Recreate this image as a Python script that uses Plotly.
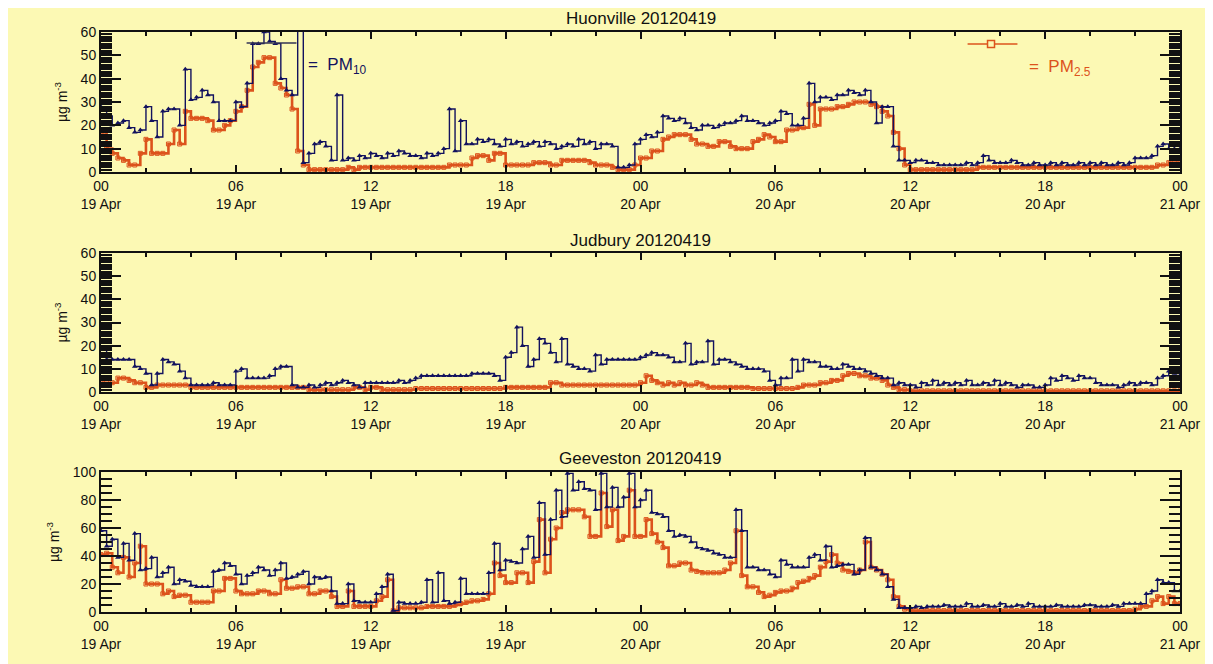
import pandas as pd
import plotly.graph_objects as go

# ---------------- data (15-minute steps, 19 Apr 00:00 -> 21 Apr 00:00) ----------------
times = pd.date_range("2012-04-19 00:00", periods=193, freq="15min")

huon_pm10 = [28, 24, 20, 21,  22, 19, 17, 18,  28, 22, 15, 26,  27, 27, 20, 44,
             31, 32, 35, 33,  30, 22, 22, 22,  30, 28, 38, 55,  55, 60, 56, 55,
             40, 35, 33, 95,  4, 8, 12, 13,  11, 5, 33, 5,  6, 5, 7, 6,
             8, 7, 6, 8,  7, 9, 8, 7,  7, 6, 8, 7,  8, 10, 27, 9,
             22, 12, 12, 14,  13, 14, 12, 11,  14, 12, 13, 11,  12, 13, 11, 13,
             12, 10, 11, 12,  11, 14, 12, 13,  10, 12, 12, 11,  2, 2, 3, 12,
             14, 16, 15, 17,  24, 23, 22, 23,  21, 19, 18, 20,  20, 19, 20, 21,
             21, 22, 24, 22,  22, 21, 20, 21,  22, 26, 25, 20,  20, 23, 38, 30,
             32, 32, 31, 33,  33, 35, 34, 33,  35, 30, 21, 28,  28, 11, 5, 5,
             4, 5, 5, 4,  4, 3, 3, 3,  3, 3, 4, 3,  4, 7, 5, 4,
             4, 4, 5, 4,  3, 3, 4, 3,  3, 4, 3, 4,  3, 3, 4, 3,
             4, 3, 4, 3,  3, 4, 3, 4,  6, 6, 6, 7,  11, 12, 10, 10,  10]
huon_pm25 = [17, 10, 8, 6,  5, 3, 3, 8,  14, 8, 8, 8,  12, 18, 12, 26,
             23, 23, 23, 22,  18, 18, 20, 22,  26, 28, 35, 45,  47, 49, 49, 38,
             36, 33, 27, 9,  3, 1, 1, 1,  1, 1, 1, 1,  2, 1, 2, 2,
             2, 2, 2, 2,  2, 2, 2, 2,  2, 2, 2, 2,  2, 2, 3, 3,
             3, 3, 6, 7,  7, 5, 8, 8,  3, 3, 3, 3,  3, 4, 4, 4,
             3, 3, 5, 5,  5, 5, 5, 4,  3, 3, 3, 2,  1, 1, 1, 3,
             6, 6, 9, 9,  14, 15, 16, 16,  16, 14, 12, 12,  11, 11, 13, 13,
             11, 10, 10, 10,  13, 14, 16, 15,  13, 13, 18, 18,  19, 19, 29, 20,
             27, 27, 27, 28,  28, 29, 30, 30,  30, 29, 28, 26,  24, 17, 10, 3,
             1, 1, 1, 1,  1, 1, 1, 1,  1, 1, 1, 1,  2, 2, 2, 2,
             2, 2, 2, 2,  2, 2, 2, 2,  2, 2, 2, 2,  2, 2, 2, 2,
             2, 2, 2, 2,  2, 2, 2, 2,  2, 2, 2, 2,  3, 3, 4, 4,  4]

judb_pm10 = [19, 14, 14, 14,  14, 14, 11, 10,  8, 3, 8, 14,  13, 12, 9, 6,
             3, 3, 3, 3,  4, 3, 3, 3,  9, 10, 6, 6,  6, 6, 7, 10,
             11, 11, 3, 2,  2, 3, 2, 3,  4, 3, 4, 5,  4, 3, 2, 4,
             4, 4, 4, 4,  4, 5, 4, 5,  6, 7, 7, 7,  7, 7, 7, 7,
             7, 7, 8, 8,  8, 8, 7, 5,  15, 17, 28, 20,  11, 14, 23, 21,
             17, 13, 23, 12,  11, 10, 10, 9,  16, 12, 14, 14,  14, 14, 14, 14,
             15, 16, 17, 16,  16, 15, 13, 13,  21, 12, 13, 13,  22, 12, 14, 14,
             13, 12, 11, 10,  10, 10, 9, 5,  3, 6, 6, 14,  9, 14, 13, 13,
             11, 11, 10, 10,  12, 11, 10, 10,  9, 8, 7, 6,  6, 3, 4, 3,
             3, 2, 4, 3,  5, 3, 4, 3,  4, 3, 5, 3,  3, 4, 3, 5,
             3, 4, 3, 2,  3, 3, 2, 2,  3, 6, 5, 7,  6, 5, 7, 6,
             6, 4, 3, 3,  3, 2, 3, 4,  3, 4, 4, 3,  6, 7, 9, 8,  7]
judb_pm25 = [4, 4, 4, 6,  6, 5, 4, 4,  2, 2, 3, 3,  3, 3, 3, 3,
             2, 2, 2, 2,  2, 2, 2, 2,  2, 2, 2, 2,  2, 2, 2, 2,
             2, 2, 2, 2,  2, 1, 1, 1,  1, 1, 1, 1,  1, 2, 2, 1,
             2, 2, 1, 1,  1, 1, 1, 1,  1.5, 1.5, 1.5, 1.5,  1.5, 1.5, 1.5, 1.5,
             1.5, 1.5, 1.5, 1.5,  1.5, 1.5, 1.5, 1.5,  2, 2, 2, 2,  2, 2, 2, 2,
             4, 4, 3, 3,  3, 3, 3, 3,  3, 3, 3, 3,  3, 3, 3, 3,
             4, 7, 5, 4,  3, 4, 3, 4,  3, 3, 4, 3,  2, 2, 2, 2,
             2, 2, 2, 2,  1.5, 1.5, 1.5, 1.5,  1.5, 1.5, 1.5, 1.5,  2, 3, 3, 3,
             4, 4, 5, 5,  7, 8, 8, 7,  7, 6, 6, 5,  3, 2, 1, 1,
             0.5, 0.5, 0.5, 0.5,  0.5, 0.5, 0.5, 0.5,  0.5, 0.5, 0.5, 0.5,  0.5, 0.5, 0.5, 0.5,
             0.5, 0.5, 0.5, 0.5,  0.5, 0.5, 0.5, 0.5,  0.5, 0.5, 0.5, 0.5,  0.5, 0.5, 0.5, 0.5,
             0.5, 0.5, 0.5, 0.5,  0.5, 0.5, 0.5, 0.5,  0.5, 0.5, 0.5, 0.5,  0.5, 0.5, 0.5, 0.5,  0.5]

geev_pm10 = [58, 47, 52, 39,  49, 37, 56, 30,  31, 39, 25, 28,  32, 20, 23, 22,
             19, 18, 18, 18,  29, 30, 35, 33,  27, 20, 26, 28,  32, 30, 26, 30,
             35, 24, 25, 27,  29, 20, 25, 24,  25, 15, 6, 6,  20, 8, 7, 7,
             7, 13, 18, 27,  1, 7, 6, 6,  6, 7, 23, 7,  28, 8, 6, 7,
             24, 13, 13, 13,  13, 28, 49, 30,  37, 36, 35, 45,  54, 39, 78, 41,
             66, 87, 68, 99,  87, 93, 88, 87,  73, 99, 75, 89,  75, 82, 99, 75,
             80, 87, 71, 70,  68, 58, 54, 55,  54, 50, 46, 45,  44, 42, 41, 39,
             39, 73, 58, 32,  32, 30, 30, 27,  25, 37, 34, 32,  32, 32, 39, 41,
             37, 47, 32, 33,  34, 34, 27, 30,  53, 32, 30, 27,  18, 9, 3, 3,
             3, 4, 3, 4,  4, 4, 5, 4,  4, 4, 6, 4,  4, 5, 4, 4,
             6, 4, 4, 5,  4, 6, 4, 4,  4, 4, 5, 4,  4, 4, 4, 5,
             5, 4, 4, 4,  5, 4, 6, 6,  6, 6, 13, 15,  23, 21, 21, 15,  15]
geev_pm25 = [41, 42, 32, 28,  39, 25, 35, 47,  20, 20, 20, 13,  15, 11, 12, 12,
             7, 7, 7, 7,  15, 15, 24, 24,  15, 13, 13, 13,  15, 15, 13, 13,
             23, 17, 17, 18,  18, 13, 13, 15,  15, 11, 4, 4,  15, 4, 4, 4,
             4, 8, 11, 23,  1, 3, 3, 3,  3, 3, 4, 4,  4, 4, 4, 5,
             6, 7, 8, 8,  9, 13, 35, 26,  21, 21, 28, 28,  21, 36, 66, 28,
             52, 60, 71, 73,  73, 73, 68, 54,  54, 85, 61, 73,  51, 54, 87, 54,
             54, 66, 56, 50,  46, 33, 33, 35,  35, 30, 29, 28,  28, 28, 28, 30,
             35, 58, 26, 18,  18, 14, 11, 12,  14, 15, 15, 17,  21, 22, 24, 26,
             32, 36, 41, 35,  30, 29, 28, 30,  50, 32, 30, 27,  23, 11, 4, 2,
             1, 1, 1, 1,  1, 1, 1, 1,  1, 1, 1, 1,  1, 1, 1, 1,
             1, 1, 1, 1,  1, 1, 1, 1,  1, 1, 1, 1,  1, 1, 1, 1,
             1, 1, 1, 1,  1, 1, 1, 1,  2, 4, 4, 8,  11, 6, 11, 6,  6]

panel_titles = ["Huonville 20120419", "Judbury 20120419", "Geeveston 20120419"]
y_ranges = [[0, 60], [0, 60], [0, 100]]
y_dticks = [10, 10, 20]
y_minor = [1, 1, 5]

# ---------------- style ----------------
BG = "#FCF9B4"
BLUE = "#12125E"
ORANGE = "#DC531C"
INK = "#111111"
FONT = "Liberation Sans"

# page body has an 8px margin: figure occupies screen pixels 8..1213 x 8..664
OFF = 8
W, H = 1213 - OFF, 664 - OFF
ML, MR, MT, MB = 101 - OFF, 30, 32 - OFF, 52
PH = H - MT - MB  # 580
PW = W - ML - MR  # 1082


def py(p):  # screen pixel y -> paper fraction
    return (664 - MB - p) / PH


def px(p):  # screen pixel x -> paper fraction
    return (p - 101) / PW


domains = [[py(172), py(32)], [py(392), py(253)], [py(612), py(472)]]

fig = go.Figure()
series = [(huon_pm10, huon_pm25), (judb_pm10, judb_pm25), (geev_pm10, geev_pm25)]
for i, (p10, p25) in enumerate(series):
    xa = "x" if i == 0 else f"x{i+1}"
    ya = "y" if i == 0 else f"y{i+1}"
    fig.add_trace(go.Scatter(x=times, y=p25, xaxis=xa, yaxis=ya, mode="lines+markers",
                             line=dict(color=ORANGE, width=2.6, shape="hv"),
                             marker=dict(symbol="square-open", size=4, color=ORANGE,
                                         line=dict(width=1, color=ORANGE)),
                             showlegend=False))
    fig.add_trace(go.Scatter(x=times, y=p10, xaxis=xa, yaxis=ya, mode="lines+markers",
                             line=dict(color=BLUE, width=1.4, shape="hv"),
                             marker=dict(symbol="triangle-up", size=5, color=BLUE),
                             showlegend=False))

layout = dict(width=W, height=H, paper_bgcolor=BG, plot_bgcolor=BG,
              margin=dict(l=ML, r=MR, t=MT, b=MB), showlegend=False,
              font=dict(family=FONT, color=INK, size=14))

for i in range(3):
    xk = "xaxis" if i == 0 else f"xaxis{i+1}"
    yk = "yaxis" if i == 0 else f"yaxis{i+1}"
    ya = "y" if i == 0 else f"y{i+1}"
    xa = "x" if i == 0 else f"x{i+1}"
    layout[xk] = dict(domain=[0, 1], anchor=ya, type="date",
                      range=["2012-04-19 00:00", "2012-04-21 00:00"],
                      tick0="2012-04-19 00:00", dtick=6 * 3600000,
                      tickformat="%H<br>%d %b", ticks="inside", ticklen=7,
                      tickwidth=1.5, tickcolor=INK,
                      minor=dict(dtick=2 * 3600000, ticks="inside", ticklen=4,
                                 tickwidth=1.5, tickcolor=INK),
                      showline=True, linecolor=INK, linewidth=2,
                      mirror="ticks", showgrid=False, zeroline=False,
                      tickfont=dict(family=FONT, size=14, color=INK))
    layout[yk] = dict(domain=domains[i], anchor=xa, range=y_ranges[i],
                      dtick=y_dticks[i], tick0=0, ticks="inside", ticklen=20,
                      tickwidth=1.5, tickcolor=INK,
                      minor=dict(dtick=y_minor[i], ticks="inside", ticklen=11,
                                 tickwidth=1.5, tickcolor=INK),
                      showline=True, linecolor=INK, linewidth=2,
                      mirror="ticks", showgrid=False, zeroline=False,
                      tickfont=dict(family=FONT, size=14, color=INK),
                      title=dict(text="µg m<sup>-3</sup>", standoff=10,
                                 font=dict(family=FONT, size=14, color=INK)))

fig.update_layout(**layout)

# panel titles
title_y = [18, 240, 458]
for t, yp in zip(panel_titles, title_y):
    fig.add_annotation(text=t, xref="paper", yref="paper", x=px(642), y=py(yp),
                       xanchor="center", yanchor="middle", showarrow=False,
                       font=dict(family=FONT, size=17, color=INK))

# legend items (IDL style, drawn inside the top panel)
fig.add_shape(type="line", xref="paper", yref="paper", x0=px(247), x1=px(297),
              y0=py(43), y1=py(43), line=dict(color="#333355", width=1.5))
fig.add_annotation(text="=  PM<sub>10</sub>", xref="paper", yref="paper",
                   x=px(307), y=py(66), xanchor="left", yanchor="middle",
                   showarrow=False, font=dict(family=FONT, size=17, color=BLUE))
fig.add_shape(type="line", xref="paper", yref="paper", x0=px(970), x1=px(1020),
              y0=py(44), y1=py(44), line=dict(color=ORANGE, width=1.5))
fig.add_shape(type="rect", xref="paper", yref="paper", x0=px(990), x1=px(997),
              y0=py(47.5), y1=py(40.5), line=dict(color=ORANGE, width=1.5),
              fillcolor=BG)
fig.add_annotation(text="=  PM<sub>2.5</sub>", xref="paper", yref="paper",
                   x=px(1030), y=py(68), xanchor="left", yanchor="middle",
                   showarrow=False, font=dict(family=FONT, size=17, color=ORANGE))

fig.write_html("out.html")
